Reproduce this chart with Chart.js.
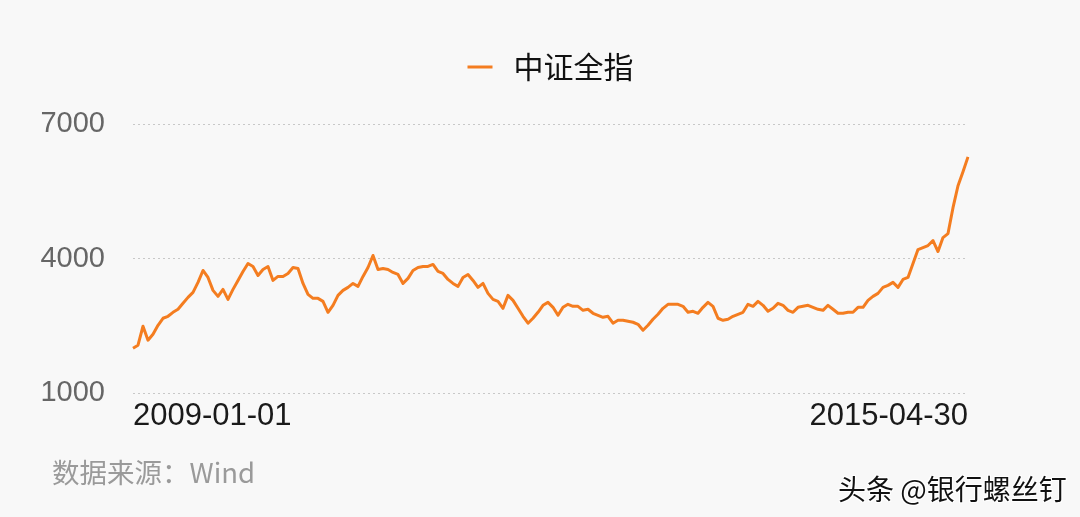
<!DOCTYPE html>
<html>
<head>
<meta charset="utf-8">
<script src="https://cdn.jsdelivr.net/npm/chart.js@4"></script>
<style>
  html, body { margin: 0; padding: 0; background: #f8f8f8; }
  #wrap { position: relative; width: 1080px; height: 517px; background: #f8f8f8; overflow: hidden; }
  #c { position: absolute; left: 0; top: 0; }
  .src { position: absolute; left: 52px; top: 451px; font: 27.5px "Noto Sans CJK SC", sans-serif; color: #9a9a9a; white-space: nowrap; }
  .wm { position: absolute; left: 838px; top: 468px; font: 28px "Noto Sans CJK SC", sans-serif; color: #111; white-space: nowrap;
        text-shadow: 1px 1px 0 #fff, -1px -1px 0 #fff, 1px -1px 0 #fff, -1px 1px 0 #fff; }
</style>
</head>
<body>
<div id="wrap">
  <canvas id="c" width="1080" height="517"></canvas>
  <div class="src">数据来源：Wind</div>
  <div class="wm">头条 @银行螺丝钉</div>
</div>
<script>
const seriesName = '中证全指';
const startDate = '2009-01-01';
const endDate = '2015-04-30';
const tickLabels = [startDate, endDate];
const yTicks = [1000, 4000, 7000];

const values = [
  2000, 2067, 2489, 2178, 2311, 2511, 2667, 2711, 2800, 2867,
  3000, 3133, 3244, 3467, 3733, 3578, 3289, 3156, 3311, 3089,
  3311, 3511, 3711, 3889, 3822, 3622, 3756, 3822, 3511, 3600,
  3600, 3667, 3800, 3778, 3444, 3200, 3111, 3111, 3044, 2800,
  2956, 3178, 3289, 3356, 3444, 3378, 3600, 3800, 4067, 3756,
  3778, 3756, 3689, 3644, 3444, 3556, 3733, 3800, 3822, 3822,
  3867, 3711, 3667, 3533, 3444, 3378, 3578, 3644, 3511, 3356,
  3444, 3222, 3089, 3044, 2889, 3178, 3067, 2889, 2711, 2556,
  2667, 2800, 2956, 3022, 2911, 2733, 2911, 2978, 2933, 2933,
  2844, 2867, 2778, 2733, 2689, 2711, 2556, 2622, 2622, 2600,
  2578, 2533, 2400, 2511, 2644, 2756, 2889, 2978, 2978, 2978,
  2933, 2800, 2822, 2778, 2911, 3022, 2933, 2667, 2622, 2644,
  2711, 2756, 2800, 2978, 2933, 3044, 2956, 2822, 2889, 3000,
  2956, 2844, 2800, 2911, 2933, 2956, 2911, 2867, 2844, 2956,
  2867, 2778, 2778, 2800, 2800, 2911, 2911, 3067, 3156, 3222,
  3356, 3400, 3467, 3356, 3533, 3578, 3889, 4200, 4244, 4289,
  4400, 4156, 4467, 4556, 5133, 5622, 5933, 6267
];

// category dates spread evenly between the first and last date
const categories = (function () {
  const s = Date.UTC(2009, 0, 1), e = Date.UTC(2015, 3, 30);
  const n = values.length, out = [];
  for (let i = 0; i < n; i++) {
    const d = new Date(s + Math.round((e - s) / 86400000 * i / (n - 1)) * 86400000);
    out.push(d.toISOString().slice(0, 10));
  }
  out[0] = tickLabels[0];
  out[n - 1] = tickLabels[1];
  return out;
})();

const legendFix = {
  id: 'legendFix',
  beforeInit(chart) {
    const fit = chart.legend.fit;
    chart.legend.fit = function () { fit.call(this); this.height = 82; };
  },
  afterLayout(chart) {
    const l = chart.legend, a = chart.chartArea;
    l.left = a.left; l.right = a.right; l.width = a.right - a.left;
  }
};

new Chart(document.getElementById('c'), {
  type: 'line',
  data: {
    labels: categories,
    datasets: [{
      label: seriesName,
      data: values,
      borderColor: '#f47d20',
      backgroundColor: '#f47d20',
      borderWidth: 3,
      pointRadius: 0,
      tension: 0,
      borderJoinStyle: 'round'
    }]
  },
  options: {
    responsive: false,
    animation: false,
    devicePixelRatio: 1,
    layout: { padding: { left: 0, right: 112, top: 42, bottom: 0 } },
    plugins: {
      tooltip: { enabled: false },
      legend: {
        display: true,
        position: 'top',
        labels: {
          padding: 10,
          boxWidth: 25,
          boxHeight: 3,
          color: '#111',
          font: { family: '"Noto Sans CJK SC", sans-serif', size: 30 },
          generateLabels(chart) {
            const items = Chart.defaults.plugins.legend.labels.generateLabels(chart);
            items.forEach(it => { it.lineWidth = 0; it.fillStyle = '#f47d20'; it.strokeStyle = '#f47d20'; it.text = '\u2009' + it.text; });
            return items;
          }
        }
      }
    },
    scales: {
      x: {
        type: 'category',
        offset: false,
        grid: { display: false, drawTicks: false },
        border: { display: false },
        afterFit(scale) { scale.height = 124; },
        ticks: {
          autoSkip: false,
          maxRotation: 0,
          minRotation: 0,
          align: 'inner',
          padding: 5,
          color: '#1a1a1a',
          font: { family: '"Liberation Sans", Arial, sans-serif', size: 31 },
          callback(v, i, ticks) {
            if (i === 0) return tickLabels[0];
            if (i === ticks.length - 1) return tickLabels[1];
            return '';
          }
        }
      },
      y: {
        min: yTicks[0],
        max: yTicks[yTicks.length - 1],
        afterFit(scale) { scale.width = 133; },
        afterBuildTicks(scale) { scale.ticks = yTicks.map(v => ({ value: v })); },
        grid: {
          drawTicks: false,
          color: '#c8c8c8',
          lineWidth: 1
        },
        border: { display: false, dash: [2, 3] },
        ticks: {
          padding: 28,
          color: '#666',
          font: { family: '"Liberation Sans", Arial, sans-serif', size: 29 },
          callback(v) { return String(v); }
        }
      }
    }
  },
  plugins: [legendFix]
});
</script>
</body>
</html>
